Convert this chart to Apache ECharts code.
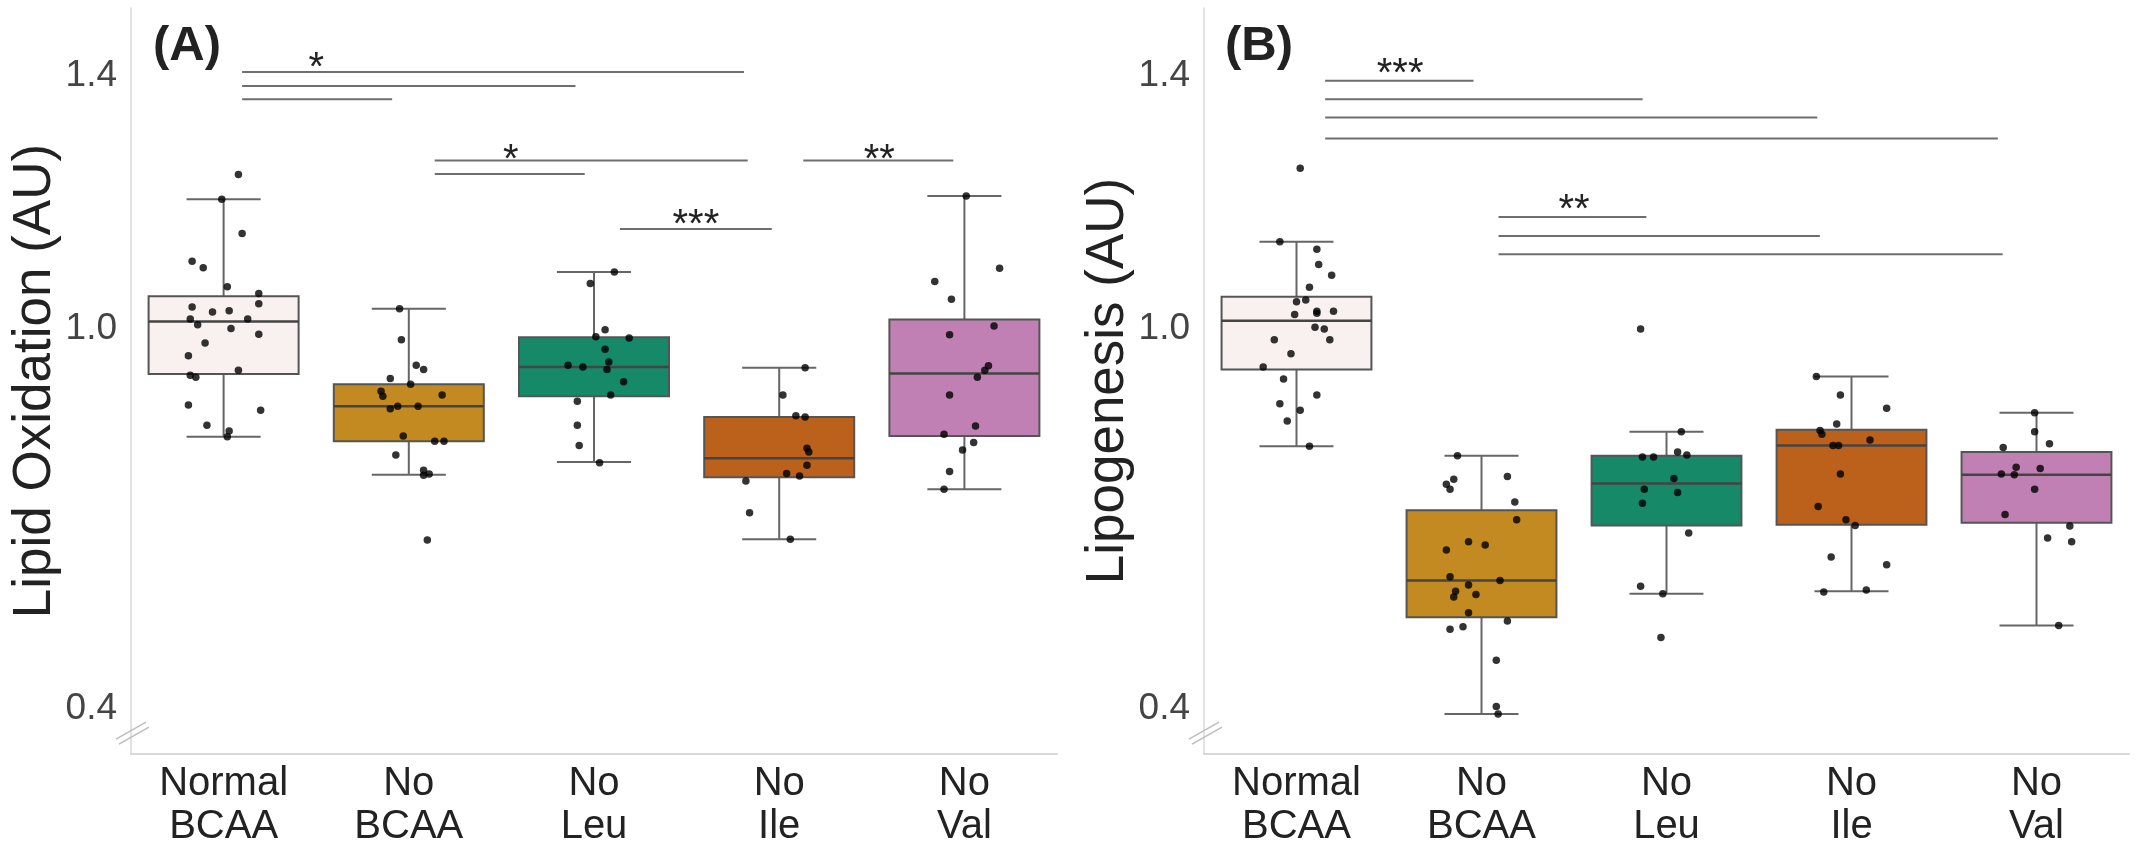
<!DOCTYPE html>
<html>
<head>
<meta charset="utf-8">
<script src="https://cdn.jsdelivr.net/npm/echarts@6/dist/echarts.min.js"></script>
<style>
  html, body { margin: 0; padding: 0; background: #fff; }
  #chart { width: 2137px; height: 854px; }
</style>
</head>
<body>
<div id="chart"></div>
<script>
// groups on the x axis
const groups = ["Normal\nBCAA", "No\nBCAA", "No\nLeu", "No\nIle", "No\nVal"];
const boxColors = ["#f9f0f0", "#c38a22", "#168969", "#bb611c", "#c180b4"];

// box stats per group: [min, Q1, median, Q3, max]
const boxStatsA = [
  [0.830, 0.929, 1.012, 1.052, 1.205],
  [0.770, 0.823, 0.878, 0.913, 1.032],
  [0.790, 0.894, 0.940, 0.987, 1.090],
  [0.668, 0.766, 0.796, 0.861, 0.939],
  [0.747, 0.831, 0.930, 1.015, 1.210]
];
const boxStatsB = [
  [0.815, 0.936, 1.013, 1.051, 1.138],
  [0.392, 0.545, 0.603, 0.714, 0.800],
  [0.582, 0.690, 0.756, 0.800, 0.838],
  [0.586, 0.691, 0.816, 0.841, 0.925],
  [0.532, 0.694, 0.770, 0.806, 0.868]
];

// raw points (lipid oxidation), one list per group
const oxNormal = [1.244, 1.205, 1.151, 1.107, 1.097, 1.067, 1.056, 1.040, 1.035, 1.027, 1.029, 1.016, 1.016, 1.007, 1.001, 0.992, 0.978, 0.958, 0.935, 0.927, 0.924, 0.880, 0.872, 0.848, 0.839, 0.830];
const oxNoBcaa = [1.032, 0.983, 0.943, 0.936, 0.922, 0.913, 0.902, 0.894, 0.896, 0.874, 0.878, 0.878, 0.831, 0.823, 0.823, 0.801, 0.777, 0.769, 0.771, 0.667];
const oxNoLeu = [1.090, 1.072, 0.999, 0.988, 0.986, 0.968, 0.948, 0.943, 0.940, 0.936, 0.917, 0.896, 0.886, 0.848, 0.816, 0.789];
const oxNoIle = [0.939, 0.896, 0.863, 0.861, 0.812, 0.806, 0.785, 0.772, 0.768, 0.760, 0.710, 0.668];
const oxNoVal = [1.210, 1.096, 1.075, 1.047, 1.005, 0.991, 0.942, 0.935, 0.924, 0.896, 0.847, 0.834, 0.821, 0.809, 0.775, 0.747];

// horizontal jitter of each point, in group widths
const oxNormalJit = [0.08, -0.01, 0.10, -0.17, -0.11, 0.02, 0.19, 0.19, -0.17, -0.06, 0.03, -0.18, 0.13, -0.14, 0.04, 0.19, -0.10, -0.19, 0.08, -0.18, -0.15, -0.19, 0.20, -0.09, 0.03, 0.02];
const oxNoBcaaJit = [-0.05, -0.04, 0.04, 0.08, -0.10, 0.01, -0.15, -0.14, 0.18, -0.10, -0.06, 0.05, -0.03, 0.14, 0.19, -0.07, 0.08, 0.08, 0.11, 0.10];
const oxNoLeuJit = [0.11, -0.02, 0.06, 0.01, 0.19, 0.06, 0.08, -0.14, -0.06, 0.07, 0.16, 0.09, -0.09, -0.09, -0.08, 0.03];
const oxNoIleJit = [0.14, 0.02, 0.09, 0.14, 0.15, 0.16, 0.15, 0.04, 0.11, -0.18, -0.16, 0.06];
const oxNoValJit = [0.01, 0.19, -0.16, -0.07, 0.16, -0.08, 0.13, 0.11, 0.07, -0.08, 0.06, -0.11, 0.05, -0.01, -0.08, -0.11];

// raw points (lipogenesis)
const lgNormal = [1.254, 1.138, 1.126, 1.102, 1.085, 1.066, 1.046, 1.043, 1.023, 1.028, 1.025, 1.028, 1.003, 1.000, 0.983, 0.983, 0.961, 0.940, 0.921, 0.896, 0.882, 0.872, 0.855, 0.815];
const lgNoBcaa = [0.800, 0.763, 0.755, 0.747, 0.767, 0.727, 0.699, 0.664, 0.651, 0.659, 0.609, 0.603, 0.596, 0.586, 0.577, 0.581, 0.552, 0.539, 0.526, 0.530, 0.477, 0.404, 0.392];
const lgNoLeu = [1.000, 0.838, 0.806, 0.801, 0.798, 0.798, 0.764, 0.747, 0.742, 0.725, 0.678, 0.594, 0.582, 0.513];
const lgNoIle = [0.925, 0.896, 0.875, 0.850, 0.840, 0.834, 0.825, 0.816, 0.816, 0.771, 0.720, 0.699, 0.690, 0.640, 0.628, 0.585, 0.588];
const lgNoVal = [0.868, 0.838, 0.819, 0.813, 0.782, 0.780, 0.771, 0.770, 0.747, 0.707, 0.689, 0.670, 0.664, 0.532];

const lgNormalJit = [0.02, -0.09, 0.11, 0.12, 0.19, 0.07, 0.05, 0.00, -0.01, 0.11, 0.11, 0.20, 0.10, 0.15, 0.18, -0.12, -0.03, -0.18, -0.07, 0.11, -0.09, 0.02, -0.05, 0.07];
const lgNoBcaaJit = [-0.13, -0.15, -0.19, -0.17, 0.14, 0.18, 0.19, -0.07, -0.19, 0.02, -0.17, 0.10, -0.07, -0.14, -0.15, -0.03, -0.07, 0.14, -0.17, -0.10, 0.08, 0.08, 0.09];
const lgNoLeuJit = [-0.14, 0.08, 0.06, 0.11, -0.13, -0.07, 0.04, -0.12, 0.06, -0.13, 0.12, -0.14, -0.02, -0.03];
const lgNoIleJit = [-0.19, -0.06, 0.19, -0.08, -0.17, -0.16, 0.10, -0.10, -0.07, -0.06, -0.18, -0.03, 0.02, -0.11, 0.19, -0.15, 0.08];
const lgNoValJit = [-0.01, -0.01, 0.07, -0.18, -0.11, 0.02, -0.19, -0.12, -0.01, -0.17, 0.18, 0.06, 0.19, 0.12];

// significance lines: [x start, x end, level]
const sigLinesA = [
  [0.10, 2.81, 1.406], [0.10, 1.90, 1.384], [0.10, 0.91, 1.363],
  [1.14, 2.83, 1.266], [1.14, 1.95, 1.245],
  [2.14, 2.96, 1.158], [3.13, 3.94, 1.266]
];
const sigLinesB = [
  [0.155, 0.957, 1.392], [0.155, 1.871, 1.363], [0.155, 2.815, 1.334], [0.155, 3.791, 1.301],
  [1.092, 1.891, 1.177], [1.092, 2.829, 1.147], [1.092, 3.817, 1.118]
];
// significance stars: [x, level, text]
const sigStarsA = [[0.50, 1.425, "*"], [1.55, 1.280, "*"], [2.55, 1.177, "***"], [3.54, 1.280, "**"]];
const sigStarsB = [[0.56, 1.415, "***"], [1.50, 1.200, "**"]];

const yTicks = [0.4, 1.0, 1.4];
const yBreak = 0.362;

const FONT = "Liberation Sans, Arial, Helvetica, sans-serif";

function jitterPoints(lists, jits) {
  let out = [];
  lists.forEach((vals, g) => {
    vals.forEach((v, i) => out.push([g + jits[g][i], v]));
  });
  return out;
}

function boxSeries(stats, idx) {
  return {
    type: "custom",
    xAxisIndex: idx,
    yAxisIndex: idx,
    z: 2,
    data: stats.map((s, g) => [g].concat(s)),
    renderItem: function (params, api) {
      const x = api.value(0);
      const lo = api.coord([x, api.value(1)]);
      const q1 = api.coord([x, api.value(2)]);
      const md = api.coord([x, api.value(3)]);
      const q3 = api.coord([x, api.value(4)]);
      const hi = api.coord([x, api.value(5)]);
      const band = api.size([1, 0])[0];
      const bw = band * 0.81;
      const cw = band * 0.4;
      const cx = lo[0];
      const wk = { stroke: "#666", lineWidth: 2 };
      return {
        type: "group",
        children: [
          { type: "line", shape: { x1: cx, y1: hi[1], x2: cx, y2: q3[1] }, style: wk },
          { type: "line", shape: { x1: cx, y1: q1[1], x2: cx, y2: lo[1] }, style: wk },
          { type: "line", shape: { x1: cx - cw / 2, y1: hi[1], x2: cx + cw / 2, y2: hi[1] }, style: wk },
          { type: "line", shape: { x1: cx - cw / 2, y1: lo[1], x2: cx + cw / 2, y2: lo[1] }, style: wk },
          {
            type: "rect",
            shape: { x: cx - bw / 2, y: q3[1], width: bw, height: q1[1] - q3[1] },
            style: { fill: boxColors[params.dataIndex], stroke: "#555", lineWidth: 2 }
          },
          { type: "line", shape: { x1: cx - bw / 2, y1: md[1], x2: cx + bw / 2, y2: md[1] }, style: { stroke: "#444", lineWidth: 2.5 } }
        ]
      };
    }
  };
}

function sigSeries(lines, stars, idx) {
  return [
    {
      type: "custom",
      xAxisIndex: idx,
      yAxisIndex: idx,
      z: 4,
      data: lines,
      renderItem: function (params, api) {
        const a = api.coord([api.value(0), api.value(2)]);
        const b = api.coord([api.value(1), api.value(2)]);
        return { type: "line", shape: { x1: a[0], y1: a[1], x2: b[0], y2: b[1] }, style: { stroke: "#6e6e6e", lineWidth: 2 } };
      }
    },
    {
      type: "custom",
      xAxisIndex: idx,
      yAxisIndex: idx,
      z: 4,
      data: stars.map(s => [s[0], s[1]]),
      renderItem: function (params, api) {
        const p = api.coord([api.value(0), api.value(1)]);
        return {
          type: "text",
          x: p[0],
          y: p[1] + 9,
          style: {
            text: stars[params.dataIndex][2],
            fill: "#222",
            fontSize: 40,
            fontFamily: FONT,
            align: "center",
            verticalAlign: "middle"
          }
        };
      }
    }
  ];
}

// the "//" mark at the foot of the y axis
function breakSeries(idx) {
  return {
    type: "custom",
    xAxisIndex: idx,
    yAxisIndex: idx,
    clip: false,
    silent: true,
    data: [[-0.5, yBreak]],
    renderItem: function (params, api) {
      const p = api.coord([api.value(0), api.value(1)]);
      const st = { stroke: "#bdbdbd", lineWidth: 1.5 };
      return {
        type: "group",
        children: [
          { type: "line", shape: { x1: p[0] - 15, y1: p[1] + 6, x2: p[0] + 15, y2: p[1] - 11 }, style: st },
          { type: "line", shape: { x1: p[0] - 12, y1: p[1] + 11, x2: p[0] + 18, y2: p[1] - 6 }, style: st }
        ]
      };
    }
  };
}

function xAxisOf(idx) {
  return {
    gridIndex: idx,
    type: "value",
    min: -0.5,
    max: 4.5,
    axisLine: { onZero: false, lineStyle: { color: "#d9d9d9", width: 2 } },
    axisTick: { show: false },
    splitLine: { show: false },
    axisLabel: {
      customValues: [0, 1, 2, 3, 4],
      formatter: function (v) { return groups[Math.round(v)]; },
      fontSize: 40,
      lineHeight: 43,
      color: "#222",
      fontFamily: FONT,
      margin: 8
    }
  };
}

function yAxisOf(idx, name) {
  return {
    gridIndex: idx,
    type: "value",
    min: 0.329,
    max: 1.507,
    axisLine: { show: true, onZero: false, lineStyle: { color: "#d9d9d9", width: 1.5 } },
    axisTick: { show: false },
    splitLine: { show: false },
    axisLabel: {
      customValues: yTicks,
      formatter: function (v) { return v.toFixed(1); },
      fontSize: 37,
      color: "#444",
      fontFamily: FONT,
      margin: 14
    },
    name: name,
    nameLocation: "middle",
    nameGap: 66,
    nameTextStyle: { fontSize: 53, color: "#222", fontFamily: FONT }
  };
}

const myChart = echarts.init(document.getElementById("chart"));
myChart.setOption({
  animation: false,
  backgroundColor: "#fff",
  title: [
    { text: "(A)", left: 153, top: 22, padding: 0, textStyle: { fontSize: 49, fontWeight: "bold", color: "#222", fontFamily: FONT } },
    { text: "(B)", left: 1225, top: 22, padding: 0, textStyle: { fontSize: 49, fontWeight: "bold", color: "#222", fontFamily: FONT } }
  ],
  grid: [
    { left: 131, top: 8, width: 926, bottom: 100 },
    { left: 1204, top: 8, width: 925, bottom: 100 }
  ],
  xAxis: [xAxisOf(0), xAxisOf(1)],
  yAxis: [yAxisOf(0, "Lipid Oxidation (AU)"), yAxisOf(1, "Lipogenesis (AU)")],
  series: [
    boxSeries(boxStatsA, 0),
    {
      type: "scatter",
      xAxisIndex: 0,
      yAxisIndex: 0,
      z: 3,
      symbolSize: 7.5,
      itemStyle: { color: "#000" },
      data: jitterPoints(
        [oxNormal, oxNoBcaa, oxNoLeu, oxNoIle, oxNoVal],
        [oxNormalJit, oxNoBcaaJit, oxNoLeuJit, oxNoIleJit, oxNoValJit]
      )
    },
    boxSeries(boxStatsB, 1),
    {
      type: "scatter",
      xAxisIndex: 1,
      yAxisIndex: 1,
      z: 3,
      symbolSize: 7.5,
      itemStyle: { color: "#000" },
      data: jitterPoints(
        [lgNormal, lgNoBcaa, lgNoLeu, lgNoIle, lgNoVal],
        [lgNormalJit, lgNoBcaaJit, lgNoLeuJit, lgNoIleJit, lgNoValJit]
      )
    },
    breakSeries(0),
    breakSeries(1)
  ].concat(sigSeries(sigLinesA, sigStarsA, 0), sigSeries(sigLinesB, sigStarsB, 1))
});
</script>
</body>
</html>
